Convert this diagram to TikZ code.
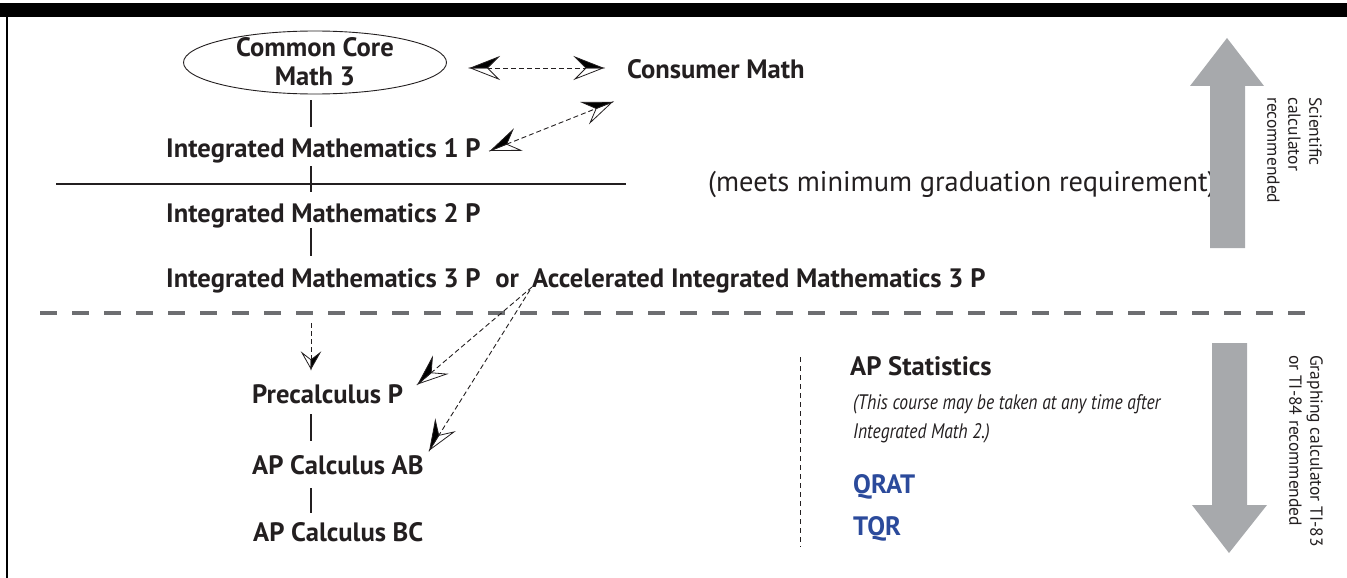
\documentclass[tikz,border=0pt]{standalone}
\usepackage{fontspec}
\setmainfont{PT Sans}
\newfontfamily\condit{PT Sans}[FakeStretch=0.835]
\usetikzlibrary{shapes.geometric, arrows.meta}
\definecolor{ink}{HTML}{231F20}
\definecolor{apblue}{HTML}{2B4A9B}
\definecolor{arrowgray}{HTML}{A7A9AC}
\definecolor{dashgray}{HTML}{6D6E71}

\newcommand\declhalfstealth[2]{%
  \pgfdeclarearrow{
    name = #1,
    defaults = {length = 28pt, width = 22pt, inset = 11pt},
    parameters = {\the\pgfarrowlength,\the\pgfarrowwidth,\the\pgfarrowinset},
    setup code = {
      \pgfarrowssettipend{0pt}
      \pgfarrowssetlineend{\dimexpr\pgfarrowinset-\pgfarrowlength\relax}
      \pgfarrowssetvisualbackend{\dimexpr\pgfarrowinset-\pgfarrowlength\relax}
      \pgfarrowssetbackend{-\pgfarrowlength}
      \pgfarrowshullpoint{0pt}{0pt}
      \pgfarrowshullpoint{-\pgfarrowlength}{.5\pgfarrowwidth}
      \pgfarrowshullpoint{-\pgfarrowlength}{-.5\pgfarrowwidth}
      \pgfarrowssavethe\pgfarrowlength
      \pgfarrowssavethe\pgfarrowwidth
      \pgfarrowssavethe\pgfarrowinset
    },
    drawing code = {
      \pgfsetdash{}{0pt}
      \pgfsetlinewidth{0.8pt}
      \pgfsetmiterjoin
      \pgfpathmoveto{\pgfqpoint{0pt}{0pt}}
      \pgfpathlineto{\pgfqpoint{-\pgfarrowlength}{-#2.5\pgfarrowwidth}}
      \pgfpathlineto{\pgfqpoint{\dimexpr\pgfarrowinset-\pgfarrowlength\relax}{0pt}}
      \pgfpathclose
      \pgfsetfillcolor{white}
      \pgfusepathqfillstroke
      \pgfpathmoveto{\pgfqpoint{0pt}{0pt}}
      \pgfpathlineto{\pgfqpoint{-\pgfarrowlength}{#2.5\pgfarrowwidth}}
      \pgfpathlineto{\pgfqpoint{\dimexpr\pgfarrowinset-\pgfarrowlength\relax}{0pt}}
      \pgfpathclose
      \pgfsetfillcolor{black}
      \pgfusepathqfillstroke
    }
  }%
}
\declhalfstealth{HS}{}
\declhalfstealth{HSr}{-}

\tikzset{
  txt/.style={inner sep=0pt, anchor=base west, text height=19pt, text depth=6pt, text=ink,
    font=\bfseries\fontsize{26.6}{31}\selectfont},
  regtxt/.style={txt, font=\fontsize{28.4}{33}\selectfont},
  notetxt/.style={inner sep=0pt, anchor=base west, align=left, text=ink,
    font=\condit\itshape\fontsize{21}{29}\selectfont},
  bluetxt/.style={txt, text=apblue},
  sidetxt/.style={inner sep=0pt, rotate=-90, anchor=north west, align=left, text=ink,
    font=\fontsize{17.5}{21}\selectfont},
  vline/.style={draw=ink, line width=1.1pt},
  dconn/.style={draw=ink, line width=0.9pt, dash pattern=on 5pt off 3pt},
  bigarrow/.style={fill=arrowgray},
}

\begin{document}
\begin{tikzpicture}[x=1pt, y=-1pt]
\useasboundingbox (0,0) rectangle (1347,578);
% frame
\fill[black] (0,3.5) rectangle (1347,17);
\draw[black, line width=2pt] (7,17) -- (7,578);

\coordinate (ax) at (311,0);

% nodes
\node[ellipse, draw=ink, line width=0.9pt, minimum width=263pt, minimum height=63pt, inner sep=0pt,
  text=ink, font=\bfseries\fontsize{26.6}{29}\selectfont] (cc) at (315,62.5)
  {\smash{\raisebox{-8.85pt}{\begin{tabular}{@{}c@{}}Common Core\\Math 3\end{tabular}}}};
\node[txt] (cm) at (627,78) {Consumer Math};
\node[txt] (im1) at (166,157) {Integrated Mathematics 1 P};
\node[txt] (im2) at (166,222) {Integrated Mathematics 2 P};
\node[txt] (im3) at (166,287) {Integrated Mathematics 3 P\hspace{0.3em} or};
\node[txt] (aim3) at (532,287) {Accelerated Integrated Mathematics 3 P};
\node[regtxt] (grad) at (708,191) {(meets minimum graduation requirement)};
\node[txt] (pre) at (252,403) {Precalculus P};
\node[txt] (ab) at (252,474) {AP Calculus AB};
\node[txt] (bc) at (253,541) {AP Calculus BC};
\node[txt] (stat) at (850,375) {AP Statistics};
\node[notetxt] (note) at (853,438) {(This course may be taken at any time after\\Integrated Math 2.)};
\node[bluetxt] (qrat) at (853,493) {QRAT};
\node[bluetxt] (tqr) at (853,535) {TQR};

% rules
\draw[ink, line width=1.3pt] (56,184) -- (626,184);
\draw[dashgray, line width=4.5pt, dash pattern=on 17pt off 15pt] (40,313) -- (1313,313);
\draw[ink, line width=1pt, dash pattern=on 5pt off 4pt] (800,357) -- (800,547);

% solid connectors
\draw[vline, shorten <=6pt, shorten >=11pt] (cc.south -| ax) -- (im1.north -| ax);
\draw[vline, shorten <=3pt, shorten >=11pt] (im1.south -| ax) -- (im2.north -| ax);
\draw[vline, shorten <=0pt, shorten >=12pt] (im2.south -| ax) -- (im3.north -| ax);
\draw[vline, shorten <=5pt, shorten >=14pt] (pre.south -| ax) -- (ab.north -| ax);
\draw[vline, shorten <=8pt, shorten >=9pt] (ab.south -| ax) -- (bc.north -| ax);

% dashed arrows
\draw[dconn, {HSr}-{HS}] ([xshift=23.5pt, yshift=-5.5pt]cc.east) -- ([xshift=-24pt, yshift=-5.5pt]cc.east -| cm.west);
\draw[dconn, {HSr}-{HS}] ([xshift=10pt]im1.east) -- ([xshift=-15pt, yshift=-18pt]cm.south west);
\draw[dconn, -{HS[length=16pt, width=18pt, inset=7pt]}, shorten <=30pt, shorten >=15pt] (im3.south -| ax) -- (pre.north -| ax);
\draw[dconn, -{HSr}] (aim3.base west) -- ([xshift=15pt]pre.north east);
\draw[dconn, -{HSr}] ([xshift=-2pt, yshift=-3pt]aim3.base west) -- ([xshift=6pt, yshift=5pt]ab.north east);

% big gray arrows
\fill[bigarrow] (1210,248) -- (1245,248) -- (1245,86) -- (1264,86) -- (1227,38) -- (1190,86) -- (1210,86) -- cycle;
\fill[bigarrow] (1212,343) -- (1247,343) -- (1247,505) -- (1267,505) -- (1229,553) -- (1192,505) -- (1212,505) -- cycle;
\node[sidetxt] (sci) at (1322,97) {Scientific\\calculator\\recommended};
\node[sidetxt] (grc) at (1323,355) {Graphing calculator TI-83\\or TI-84 recommended};
\end{tikzpicture}
\end{document}
